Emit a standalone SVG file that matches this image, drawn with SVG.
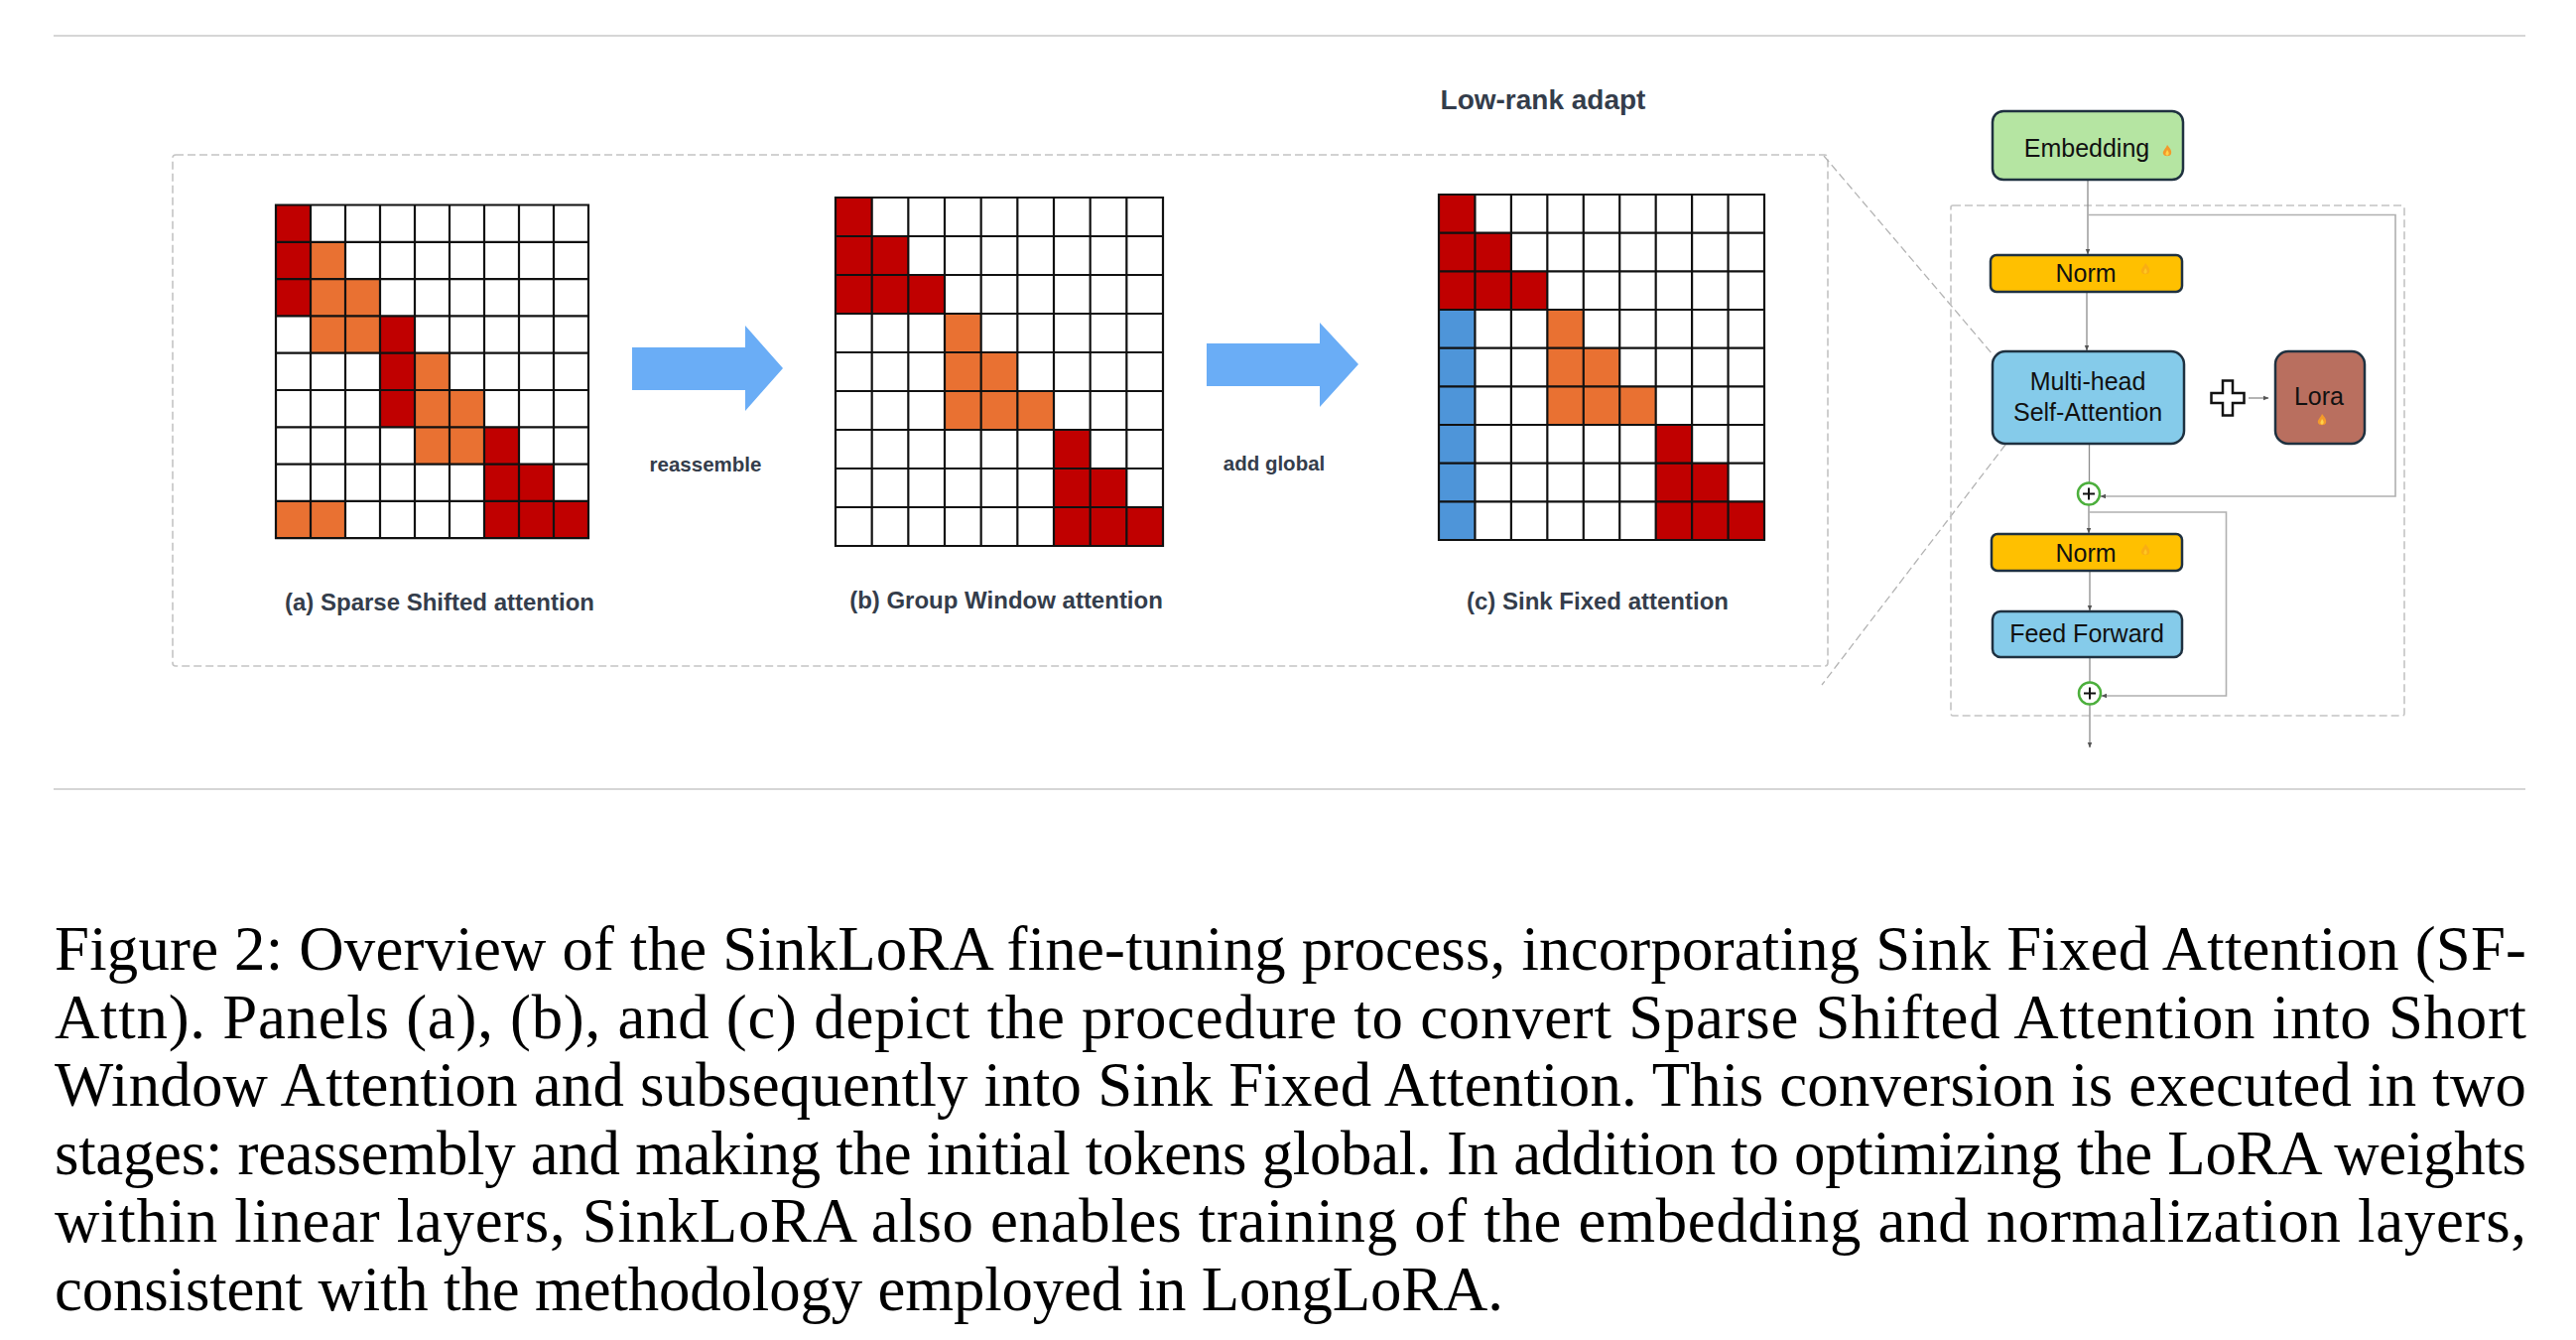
<svg xmlns="http://www.w3.org/2000/svg" xmlns:xlink="http://www.w3.org/1999/xlink" width="2596" height="1350" viewBox="0 0 2596 1350">
<defs>
<style>
.rule{stroke:#c8c8c8;stroke-width:1.5;fill:none}
.dbox{stroke:#c4c4c4;stroke-width:1.6;fill:none;stroke-dasharray:8 4}
.diag{stroke:#b4b4b4;stroke-width:1.3;fill:none;stroke-dasharray:8 4}
.gl{stroke:#111;stroke-width:2.2;fill:none;stroke-linecap:square}
.R{fill:#c00000}.O{fill:#e97132}.B{fill:#4e95d9}
.lbl{font-family:"Liberation Sans",Arial,sans-serif;font-weight:bold;fill:#343d4b;text-anchor:middle}
.arrow{fill:#6aadf6}
.node{stroke:#1f3140;stroke-width:2.5}
.nt{font-family:"Liberation Sans",Arial,sans-serif;font-size:25px;fill:#111;text-anchor:middle}
.conn{stroke:#8c8c8c;stroke-width:1.3;fill:none}
.res{stroke:#b0b0b0;stroke-width:1.6;fill:none}
.cap{font-family:"Liberation Serif","Times New Roman",serif;font-size:62.8px;fill:#000}
</style>
<marker id="ah" viewBox="0 0 10 10" refX="9" refY="5" markerWidth="6" markerHeight="6" markerUnits="userSpaceOnUse" orient="auto">
<path d="M0,1 L10,5 L0,9 Z" fill="#555"/>
</marker>
<g id="fire"><path d="M0,-6 C2.5,-3 5,-0.5 4,3 C3,6 -3,6 -4,3 C-5,0 -1.5,-2 0,-6 Z" fill="#f39a2b"/><path d="M0,-1 C1.5,1 2,2 1.5,3.5 C1,5 -1,5 -1.5,3.5 C-2,2 -0.5,1 0,-1 Z" fill="#ffd24a"/></g>
</defs>
<rect x="0" y="0" width="2596" height="1350" fill="#fff"/>

<line class="rule" x1="54" y1="36" x2="2545" y2="36"/>
<line class="rule" x1="54" y1="795" x2="2545" y2="795"/>

<g id="attention-panel">
<rect class="dbox" x="174" y="156" width="1668" height="515" rx="3"/>
<text class="lbl" x="1555" y="110" font-size="28">Low-rank adapt</text>
</g>

<g id="grid-a">
<g transform="translate(278,206.5) scale(35,37.3)">
<rect class="R" x="0" y="0" width="1" height="1"/>
<rect class="R" x="0" y="1" width="1" height="1"/><rect class="O" x="1" y="1" width="1" height="1"/>
<rect class="R" x="0" y="2" width="1" height="1"/><rect class="O" x="1" y="2" width="2" height="1"/>
<rect class="O" x="1" y="3" width="2" height="1"/><rect class="R" x="3" y="3" width="1" height="1"/>
<rect class="R" x="3" y="4" width="1" height="1"/><rect class="O" x="4" y="4" width="1" height="1"/>
<rect class="R" x="3" y="5" width="1" height="1"/><rect class="O" x="4" y="5" width="2" height="1"/>
<rect class="O" x="4" y="6" width="2" height="1"/><rect class="R" x="6" y="6" width="1" height="1"/>
<rect class="R" x="6" y="7" width="2" height="1"/>
<rect class="O" x="0" y="8" width="2" height="1"/><rect class="R" x="6" y="8" width="3" height="1"/>
</g>
<path class="gl" d="M278 206.5H593M278 243.8H593M278 281.1H593M278 318.4H593M278 355.7H593M278 393H593M278 430.3H593M278 467.6H593M278 504.9H593M278 542.2H593M278 206.5V542.2M313 206.5V542.2M348 206.5V542.2M383 206.5V542.2M418 206.5V542.2M453 206.5V542.2M488 206.5V542.2M523 206.5V542.2M558 206.5V542.2M593 206.5V542.2"/>
</g>
<text class="lbl" x="443" y="615" font-size="24">(a) Sparse Shifted attention</text>

<g id="grid-b">
<g transform="translate(842,199) scale(36.667,39)">
<rect class="R" x="0" y="0" width="1" height="1"/>
<rect class="R" x="0" y="1" width="2" height="1"/>
<rect class="R" x="0" y="2" width="3" height="1"/>
<rect class="O" x="3" y="3" width="1" height="1"/>
<rect class="O" x="3" y="4" width="2" height="1"/>
<rect class="O" x="3" y="5" width="3" height="1"/>
<rect class="R" x="6" y="6" width="1" height="1"/>
<rect class="R" x="6" y="7" width="2" height="1"/>
<rect class="R" x="6" y="8" width="3" height="1"/>
</g>
<path class="gl" d="M842 199H1172M842 238H1172M842 277H1172M842 316H1172M842 355H1172M842 394H1172M842 433H1172M842 472H1172M842 511H1172M842 550H1172M842 199V550M878.67 199V550M915.33 199V550M952 199V550M988.67 199V550M1025.33 199V550M1062 199V550M1098.67 199V550M1135.33 199V550M1172 199V550"/>
</g>
<text class="lbl" x="1014" y="613" font-size="24">(b) Group Window attention</text>

<g id="grid-c">
<g transform="translate(1450,196) scale(36.444,38.667)">
<rect class="R" x="0" y="0" width="1" height="1"/>
<rect class="R" x="0" y="1" width="2" height="1"/>
<rect class="R" x="0" y="2" width="3" height="1"/>
<rect class="B" x="0" y="3" width="1" height="6"/>
<rect class="O" x="3" y="3" width="1" height="1"/>
<rect class="O" x="3" y="4" width="2" height="1"/>
<rect class="O" x="3" y="5" width="3" height="1"/>
<rect class="R" x="6" y="6" width="1" height="1"/>
<rect class="R" x="6" y="7" width="2" height="1"/>
<rect class="R" x="6" y="8" width="3" height="1"/>
</g>
<path class="gl" d="M1450 196H1778M1450 234.67H1778M1450 273.33H1778M1450 312H1778M1450 350.67H1778M1450 389.33H1778M1450 428H1778M1450 466.67H1778M1450 505.33H1778M1450 544H1778M1450 196V544M1486.44 196V544M1522.89 196V544M1559.33 196V544M1595.78 196V544M1632.22 196V544M1668.67 196V544M1705.11 196V544M1741.56 196V544M1778 196V544"/>
</g>
<text class="lbl" x="1610" y="614" font-size="24">(c) Sink Fixed attention</text>

<g id="arrow-reassemble">
<polygon class="arrow" points="637,350 751,350 751,328 789,371 751,414 751,393 637,393"/>
<text class="lbl" x="711" y="475" font-size="20.5">reassemble</text>
</g>
<g id="arrow-add-global">
<polygon class="arrow" points="1216,346 1330,346 1330,325 1369,367 1330,410 1330,389 1216,389"/>
<text class="lbl" x="1284" y="474" font-size="20.5">add global</text>
</g>

<g id="connectors">
<line class="diag" x1="1838" y1="157" x2="2008" y2="357"/>
<line class="diag" x1="2021" y1="448" x2="1836" y2="690"/>
<rect class="dbox" x="1966" y="207" width="457" height="514" rx="2"/>
<line class="conn" x1="2104" y1="181" x2="2104" y2="256" marker-end="url(#ah)"/>
<polyline class="res" points="2104,216.5 2414,216.5 2414,500 2117,500" marker-end="url(#ah)"/>
<line class="conn" x1="2103" y1="294" x2="2103" y2="353" marker-end="url(#ah)"/>
<line class="conn" x1="2105.5" y1="447" x2="2105.5" y2="486"/>
<line class="conn" x1="2105" y1="509" x2="2105" y2="537" marker-end="url(#ah)"/>
<polyline class="res" points="2105,516 2243.5,516 2243.5,701 2118,701" marker-end="url(#ah)"/>
<line class="conn" x1="2106" y1="575" x2="2106" y2="615" marker-end="url(#ah)"/>
<line class="conn" x1="2106" y1="662" x2="2106" y2="687"/>
<line class="conn" x1="2106" y1="710" x2="2106" y2="753" marker-end="url(#ah)"/>
<line class="conn" x1="2266" y1="401" x2="2286" y2="401" marker-end="url(#ah)"/>
</g>

<g id="embedding">
<rect class="node" x="2008" y="112" width="192" height="69" rx="11" fill="#b5e5a2"/>
<text class="nt" x="2103" y="158" font-size="26">Embedding</text>
<use xlink:href="#fire" x="2184" y="152"/>
</g>
<g id="norm1">
<rect class="node" x="2006" y="257" width="193" height="37" rx="6" fill="#ffc000"/>
<text class="nt" x="2102" y="284">Norm</text>
<use xlink:href="#fire" x="2162" y="271" opacity="0.45"/>
</g>
<g id="mhsa">
<rect class="node" x="2008" y="354" width="193" height="93" rx="13" fill="#85cbea"/>
<text class="nt" x="2104" y="393" font-size="26.5">Multi-head</text>
<text class="nt" x="2104" y="424" font-size="26.5">Self-Attention</text>
</g>
<g id="plus-op">
<polygon points="2240,383.5 2250,383.5 2250,396 2261.5,396 2261.5,406 2250,406 2250,418.5 2240,418.5 2240,406 2228.5,406 2228.5,396 2240,396" fill="#fff" stroke="#111" stroke-width="2.5"/>
</g>
<g id="lora">
<rect class="node" x="2293" y="354" width="90" height="93" rx="13" fill="#b96f5f"/>
<text class="nt" x="2337" y="408" font-size="26">Lora</text>
<use xlink:href="#fire" x="2340" y="423"/>
</g>
<g id="add1">
<circle cx="2105" cy="497.5" r="11" fill="#fff" stroke="#4caf3c" stroke-width="2.5"/>
<path d="M2099 497.5H2111M2105 491.5V503.5" stroke="#111" stroke-width="2"/>
</g>
<g id="norm2">
<rect class="node" x="2007" y="538" width="192" height="37" rx="6" fill="#ffc000"/>
<text class="nt" x="2102" y="566">Norm</text>
<use xlink:href="#fire" x="2162" y="554" opacity="0.45"/>
</g>
<g id="feed-forward">
<rect class="node" x="2008" y="616" width="191" height="46" rx="8" fill="#85cbea"/>
<text class="nt" x="2103" y="647">Feed Forward</text>
</g>
<g id="add2">
<circle cx="2106" cy="698.5" r="11" fill="#fff" stroke="#4caf3c" stroke-width="2.5"/>
<path d="M2100 698.5H2112M2106 692.5V704.5" stroke="#111" stroke-width="2"/>
</g>

<g id="caption">
<text class="cap" x="55" y="977" textLength="2491" lengthAdjust="spacing">Figure 2: Overview of the SinkLoRA fine-tuning process, incorporating Sink Fixed Attention (SF-</text>
<text class="cap" x="55" y="1045.6" textLength="2491" lengthAdjust="spacing">Attn).  Panels (a), (b), and (c) depict the procedure to convert Sparse Shifted Attention into Short</text>
<text class="cap" x="55" y="1114.2" textLength="2491" lengthAdjust="spacing">Window Attention and subsequently into Sink Fixed Attention. This conversion is executed in two</text>
<text class="cap" x="55" y="1182.8" textLength="2491" lengthAdjust="spacing">stages: reassembly and making the initial tokens global. In addition to optimizing the LoRA weights</text>
<text class="cap" x="55" y="1251.4" textLength="2491" lengthAdjust="spacing">within linear layers, SinkLoRA also enables training of the embedding and normalization layers,</text>
<text class="cap" x="55" y="1320" textLength="1460" lengthAdjust="spacing">consistent with the methodology employed in LongLoRA.</text>
</g>
</svg>
